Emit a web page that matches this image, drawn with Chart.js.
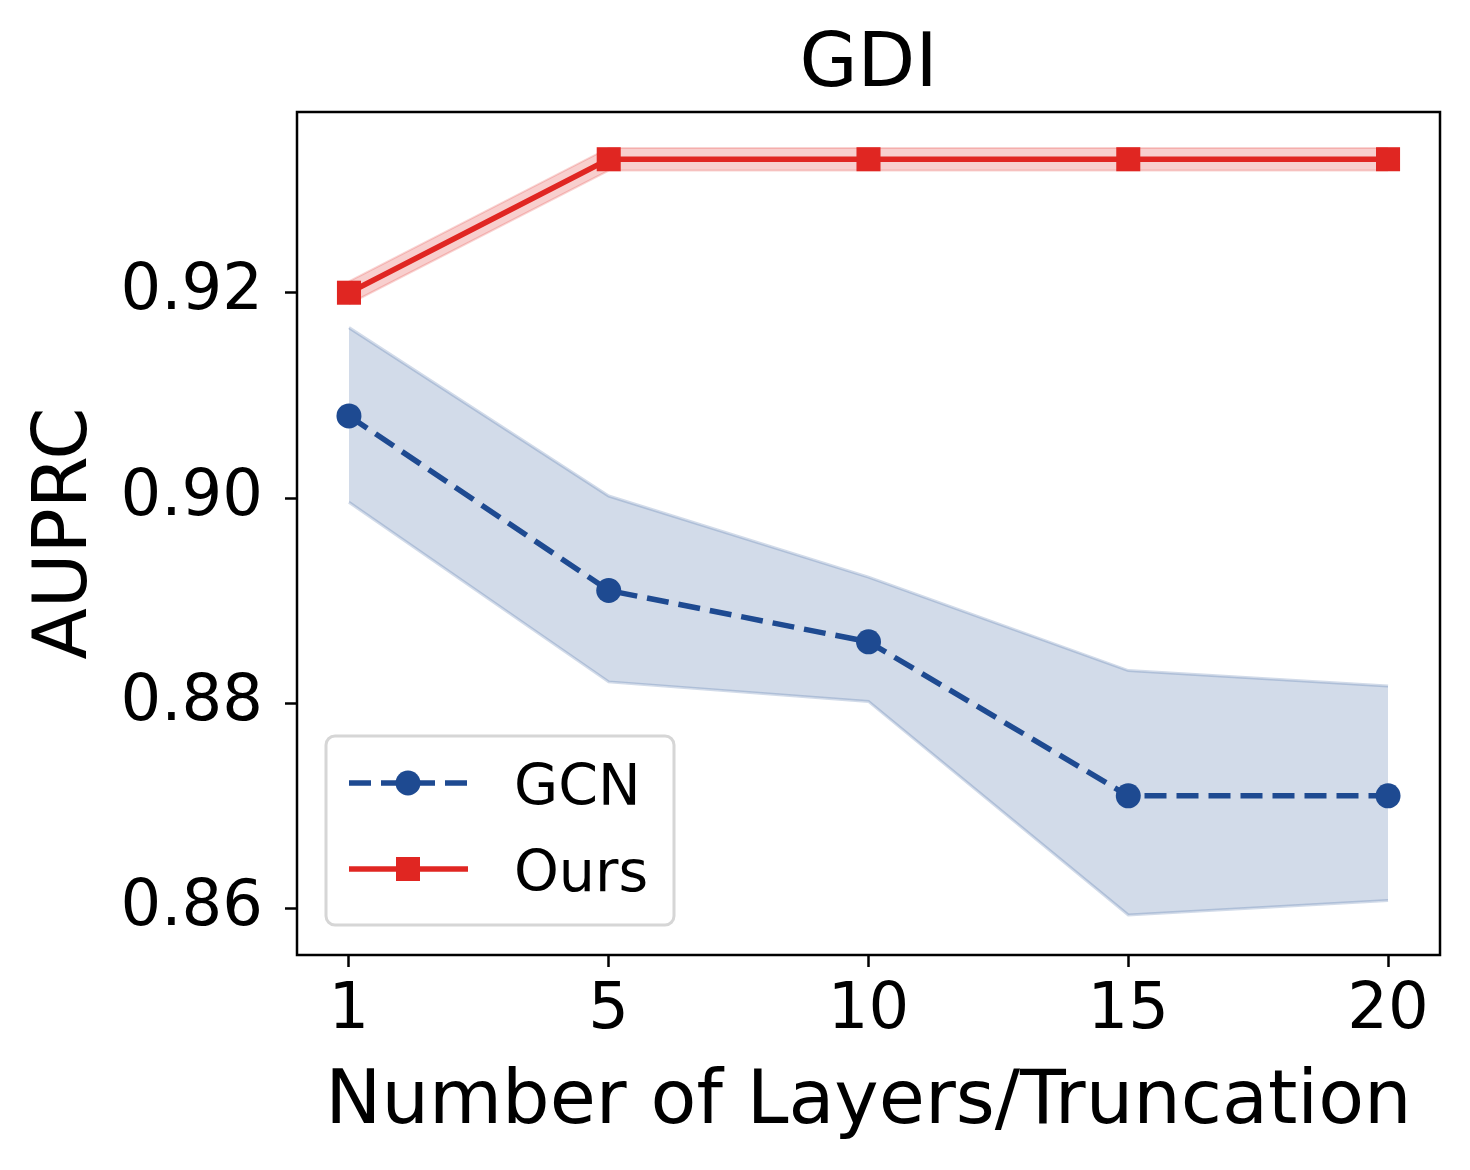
<!DOCTYPE html>
<html>
<head>
<meta charset="utf-8">
<script src="https://cdn.jsdelivr.net/npm/chart.js@4"></script>
<style>
  body { margin: 0; background: #fff; }
  #wrap { width: 1470px; height: 1170px; }
</style>
</head>
<body>
<div id="wrap"><canvas id="gdiChart" width="1470" height="1170"></canvas></div>
<script>
// values
const layers = ['1', '5', '10', '15', '20'];
const yTicks = [0.86, 0.88, 0.90, 0.92];

const gcnMean  = [0.908, 0.891, 0.886, 0.871, 0.871];
const gcnUpper = [0.9166, 0.9002, 0.8923, 0.8832, 0.8817];
const gcnLower = [0.8996, 0.8821, 0.8802, 0.8594, 0.8608];

const oursMean  = [0.920, 0.933, 0.933, 0.933, 0.933];
const oursUpper = [0.9211, 0.9341, 0.9341, 0.9341, 0.9341];
const oursLower = [0.9189, 0.9319, 0.9319, 0.9319, 0.9319];

const blue = '#1e4a91';
const red = '#e02622';
const font = 'DejaVu Sans';

function pts(arr) {
  return arr.map((v, i) => ({ x: i, y: v }));
}

// box round the plot and the matplotlib-like legend
const framePlugin = {
  id: 'frame',
  afterDraw(chart) {
    const { ctx, chartArea: a } = chart;
    ctx.save();
    ctx.strokeStyle = '#000';
    ctx.lineWidth = 2.5;
    ctx.strokeRect(a.left, a.top, a.right - a.left, a.bottom - a.top);

    // legend
    const lx = 326, ly = 736, lw = 348, lh = 189;
    ctx.beginPath();
    ctx.roundRect(lx, ly, lw, lh, 9);
    ctx.fillStyle = 'rgba(255,255,255,0.8)';
    ctx.fill();
    ctx.lineWidth = 3;
    ctx.strokeStyle = '#d6d6d6';
    ctx.stroke();

    const entries = [
      { ds: chart.data.datasets[0], y: 783 },
      { ds: chart.data.datasets[1], y: 869 }
    ];
    entries.forEach(e => {
      ctx.beginPath();
      ctx.setLineDash(e.ds.borderDash || []);
      ctx.strokeStyle = e.ds.borderColor;
      ctx.lineWidth = e.ds.borderWidth;
      ctx.moveTo(349, e.y);
      ctx.lineTo(468, e.y);
      ctx.stroke();
      ctx.setLineDash([]);
      ctx.fillStyle = e.ds.pointBackgroundColor;
      ctx.beginPath();
      if (e.ds.pointStyle === 'rect') {
        ctx.rect(396, e.y - 12, 24, 24);
      } else {
        ctx.arc(408, e.y, 12.5, 0, Math.PI * 2);
      }
      ctx.fill();
      ctx.fillStyle = '#000';
      ctx.font = '57px "' + font + '"';
      ctx.textBaseline = 'alphabetic';
      ctx.fillText(e.ds.label, 514, e.y + 22);
    });
    ctx.restore();
  }
};

new Chart(document.getElementById('gdiChart'), {
  type: 'line',
  data: {
    datasets: [
      {
        label: 'GCN',
        data: pts(gcnMean),
        borderColor: blue,
        borderWidth: 5.5,
        borderDash: [22, 10],
        pointStyle: 'circle',
        pointRadius: 12.5,
        pointBackgroundColor: blue,
        pointBorderWidth: 0,
        fill: false
      },
      {
        label: 'Ours',
        data: pts(oursMean),
        borderColor: red,
        borderWidth: 5.5,
        pointStyle: 'rect',
        pointRadius: 17,
        pointBackgroundColor: red,
        pointBorderWidth: 0,
        fill: false
      },
      {
        label: 'gcn upper',
        data: pts(gcnUpper),
        borderColor: 'rgba(30,74,145,0.2)',
        borderWidth: 3,
        pointRadius: 0,
        fill: false
      },
      {
        label: 'gcn lower',
        data: pts(gcnLower),
        borderColor: 'rgba(30,74,145,0.2)',
        borderWidth: 3,
        pointRadius: 0,
        backgroundColor: 'rgba(30,74,145,0.2)',
        fill: 2
      },
      {
        label: 'ours upper',
        data: pts(oursUpper),
        borderColor: 'rgba(224,38,34,0.2)',
        borderWidth: 2,
        pointRadius: 0,
        fill: false
      },
      {
        label: 'ours lower',
        data: pts(oursLower),
        borderColor: 'rgba(224,38,34,0.2)',
        borderWidth: 2,
        pointRadius: 0,
        backgroundColor: 'rgba(224,38,34,0.22)',
        fill: 4
      }
    ]
  },
  options: {
    responsive: false,
    animation: false,
    devicePixelRatio: 1,
    layout: { padding: { left: 0, right: 30, top: 0, bottom: 0 } },
    plugins: {
      legend: { display: false },
      tooltip: { enabled: false },
      title: {
        display: true,
        fullSize: false,
        text: 'GDI',
        color: '#000',
        font: { family: font, size: 75, weight: 'normal' },
        padding: { top: 22, bottom: 0 }
      }
    },
    scales: {
      x: {
        type: 'linear',
        min: -0.2,
        max: 4.2,
        afterBuildTicks: s => { s.ticks = layers.map((_, i) => ({ value: i })); },
        afterFit: s => { s.height = 215; },
        ticks: {
          color: '#000',
          font: { family: font, size: 64 },
          padding: 6,
          maxRotation: 0,
          callback: v => layers[v]
        },
        grid: { drawOnChartArea: false, drawTicks: true, tickLength: 12, tickWidth: 2.5, tickColor: '#000' },
        border: { display: false },
        title: {
          display: true,
          text: 'Number of Layers/Truncation',
          color: '#000',
          font: { family: font, size: 75 },
          padding: { top: 0, bottom: 21 }
        }
      },
      y: {
        min: 0.8555,
        max: 0.9376,
        afterBuildTicks: s => { s.ticks = yTicks.map(v => ({ value: v })); },
        afterFit: s => { s.width = 297; },
        ticks: {
          color: '#000',
          font: { family: font, size: 64 },
          padding: 22,
          callback: v => v.toFixed(2)
        },
        grid: { drawOnChartArea: false, drawTicks: true, tickLength: 12, tickWidth: 2.5, tickColor: '#000' },
        border: { display: false },
        title: {
          display: true,
          text: 'AUPRC',
          color: '#000',
          font: { family: font, size: 75 },
          padding: { top: 22, bottom: 0 }
        }
      }
    }
  },
  plugins: [framePlugin]
});
</script>
</body>
</html>
